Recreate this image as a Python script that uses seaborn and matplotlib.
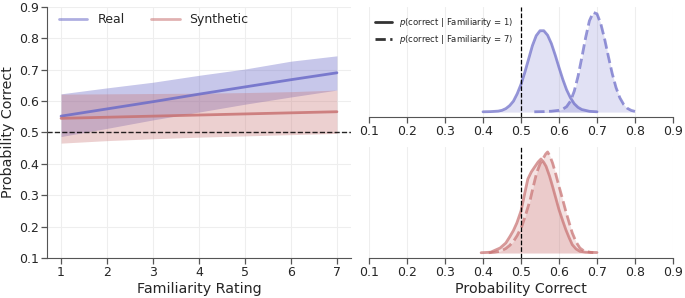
import numpy as np
import pandas as pd
import seaborn as sns
import matplotlib.pyplot as plt
from matplotlib.lines import Line2D

# Left panel: fitted probability vs familiarity rating
familiarity = [1, 2, 3, 4, 5, 6, 7]
real_mean = [0.552, 0.575, 0.598, 0.622, 0.645, 0.668, 0.690]
real_lo = [0.487, 0.513, 0.540, 0.565, 0.590, 0.613, 0.635]
real_hi = [0.623, 0.642, 0.660, 0.682, 0.702, 0.727, 0.744]
synth_mean = [0.545, 0.5485, 0.552, 0.5555, 0.559, 0.5625, 0.566]
synth_lo = [0.466, 0.474, 0.480, 0.485, 0.489, 0.493, 0.497]
synth_hi = [0.622, 0.623, 0.624, 0.625, 0.627, 0.630, 0.635]

# Right panels: posterior densities (arbitrary units)
real_f1_x = [0.40, 0.42, 0.44, 0.45, 0.46, 0.47, 0.48, 0.49, 0.50, 0.51, 0.52, 0.53, 0.54,
             0.55, 0.56, 0.57, 0.58, 0.59, 0.60, 0.61, 0.62, 0.63, 0.64, 0.65, 0.66, 0.68, 0.70]
real_f1_d = [0.3, 0.5, 1.0, 1.8, 3.5, 6.5, 11, 18.5, 28, 40, 53.5, 67, 77,
             82, 82, 77.5, 69, 57.5, 45, 33, 22.5, 14.5, 8.5, 4.8, 2.6, 0.8, 0.3]
real_f7_x = [0.535, 0.56, 0.58, 0.60, 0.61, 0.62, 0.63, 0.64, 0.65, 0.66, 0.67, 0.68, 0.69,
             0.70, 0.71, 0.72, 0.73, 0.74, 0.75, 0.76, 0.77, 0.78, 0.79, 0.80]
real_f7_d = [0.3, 0.5, 0.9, 1.8, 3.0, 5.5, 11, 21, 36, 55, 75, 92, 100.5,
             99, 89, 73.7, 55.9, 38.9, 24.8, 14.5, 7.8, 3.8, 1.7, 0.7]
synth_f1_x = [0.395, 0.42, 0.445, 0.46, 0.471, 0.48, 0.489, 0.50, 0.51, 0.518, 0.527, 0.537,
              0.545, 0.5526, 0.56, 0.566, 0.575, 0.583, 0.59, 0.60, 0.61, 0.618, 0.627,
              0.635, 0.645, 0.655, 0.67, 0.70]
synth_f1_d = [0.3, 0.8, 5, 10, 16.6, 22.5, 30, 42, 60, 74, 81, 86.6,
              91, 94, 90.5, 86.6, 77, 66.6, 57, 43.3, 32, 23.3, 15,
              8.3, 4, 1.7, 0.8, 0.5]
synth_f7_x = [0.415, 0.43, 0.445, 0.46, 0.47, 0.48, 0.49, 0.502, 0.512, 0.524, 0.532, 0.541,
              0.55, 0.559, 0.565, 0.570, 0.576, 0.583, 0.59, 0.60, 0.61, 0.618, 0.627,
              0.635, 0.645, 0.655, 0.665, 0.682, 0.69]
synth_f7_d = [0.3, 0.8, 1.7, 4.5, 7.5, 11.6, 17.5, 26.6, 38, 53, 66, 80,
              89, 95, 99, 101, 97, 90, 81, 66.6, 53, 41.6, 30,
              20, 11, 5, 2.2, 0.7, 0.4]

REAL = "#6c6cc8"
SYNTH = "#c87272"

sns.set_style("whitegrid")
plt.rcParams["font.family"] = ["DejaVu Sans"]
plt.rcParams["axes.edgecolor"] = "#555555"
plt.rcParams["grid.color"] = "#eeeeee"
plt.rcParams["text.color"] = "#262626"
plt.rcParams["xtick.color"] = "#262626"
plt.rcParams["ytick.color"] = "#262626"

fig = plt.figure(figsize=(6.85, 2.98), dpi=100)
ax = fig.add_axes([0.069, 0.134, 0.443, 0.843])
ax_top = fig.add_axes([0.5387, 0.607, 0.4438, 0.37])
ax_bot = fig.add_axes([0.5387, 0.134, 0.4438, 0.373])

# ---- left panel
df = pd.DataFrame({
    "Familiarity": familiarity * 2,
    "p": real_mean + synth_mean,
    "group": ["Real"] * 7 + ["Synthetic"] * 7,
})
ax.fill_between(familiarity, real_lo, real_hi, color=REAL, alpha=0.38, lw=0)
ax.fill_between(familiarity, synth_lo, synth_hi, color=SYNTH, alpha=0.33, lw=0)
sns.lineplot(data=df, x="Familiarity", y="p", hue="group",
             palette={"Real": REAL, "Synthetic": SYNTH}, lw=2, alpha=0.85,
             ax=ax, legend=False)
ax.axhline(0.5, color="black", ls="--", lw=1, alpha=0.85)
ax.set_xlim(0.7, 7.3)
ax.set_ylim(0.1, 0.9)
ax.set_xticks(familiarity)
ax.set_yticks(np.arange(0.1, 0.91, 0.1))
ax.set_yticklabels([f"{v:.1f}" for v in np.arange(0.1, 0.91, 0.1)])
ax.set_xlabel("Familiarity Rating", fontsize=10.3, labelpad=2)
ax.set_ylabel("Probability Correct", fontsize=10.3, labelpad=3)
ax.tick_params(labelsize=9, length=4, width=0.9, color="#555555", pad=2,
               left=True, bottom=True)
sns.despine(ax=ax)
handles = [Line2D([], [], color=REAL, lw=2, alpha=0.55),
           Line2D([], [], color=SYNTH, lw=2, alpha=0.55)]
ax.legend(handles, ["Real", "Synthetic"], loc="upper left", ncol=2, frameon=False,
          fontsize=9, handlelength=2.3, columnspacing=2.1,
          bbox_to_anchor=(0.0, 1.02))

# ---- right panels
def density_panel(a, x1, d1, x7, d7, color):
    a.fill_between(x1, 0, d1, color=color, alpha=0.2, lw=0)
    a.fill_between(x7, 0, d7, color=color, alpha=0.2, lw=0)
    sns.lineplot(x=x1, y=d1, color=color, lw=2, alpha=0.72, ax=a)
    sns.lineplot(x=x7, y=d7, color=color, lw=2, alpha=0.72, ls="--", ax=a)
    a.axvline(0.5, color="black", ls="--", lw=0.9)
    a.set_xlim(0.1, 0.9)
    a.set_xticks(np.arange(0.1, 0.91, 0.1))
    a.set_xticklabels([f"{v:.1f}" for v in np.arange(0.1, 0.91, 0.1)])
    a.set_yticks([])
    a.set_ylabel("")
    a.grid(axis="y", visible=False)
    a.tick_params(labelsize=9, length=4, width=0.9, color="#555555", pad=2,
                  bottom=True)
    sns.despine(ax=a, left=True)

density_panel(ax_top, real_f1_x, real_f1_d, real_f7_x, real_f7_d, REAL)
density_panel(ax_bot, synth_f1_x, synth_f1_d, synth_f7_x, synth_f7_d, SYNTH)
ax_top.set_ylim(-5.05, 106.05)
ax_bot.set_ylim(-5.05, 106.05)
ax_top.set_xlabel("")
ax_bot.set_xlabel("Probability Correct", fontsize=10.3, labelpad=2)

h_leg = [Line2D([], [], color="#333333", lw=2),
         Line2D([], [], color="#333333", lw=2, ls="--")]
ax_top.legend(h_leg, ["$p$(correct | Familiarity = 1)", "$p$(correct | Familiarity = 7)"],
              loc="upper left", frameon=False, fontsize=6.1, handlelength=2.0,
              borderaxespad=0.3, labelspacing=0.5, bbox_to_anchor=(0.0, 0.97))

fig.savefig("out.png", dpi=100)
